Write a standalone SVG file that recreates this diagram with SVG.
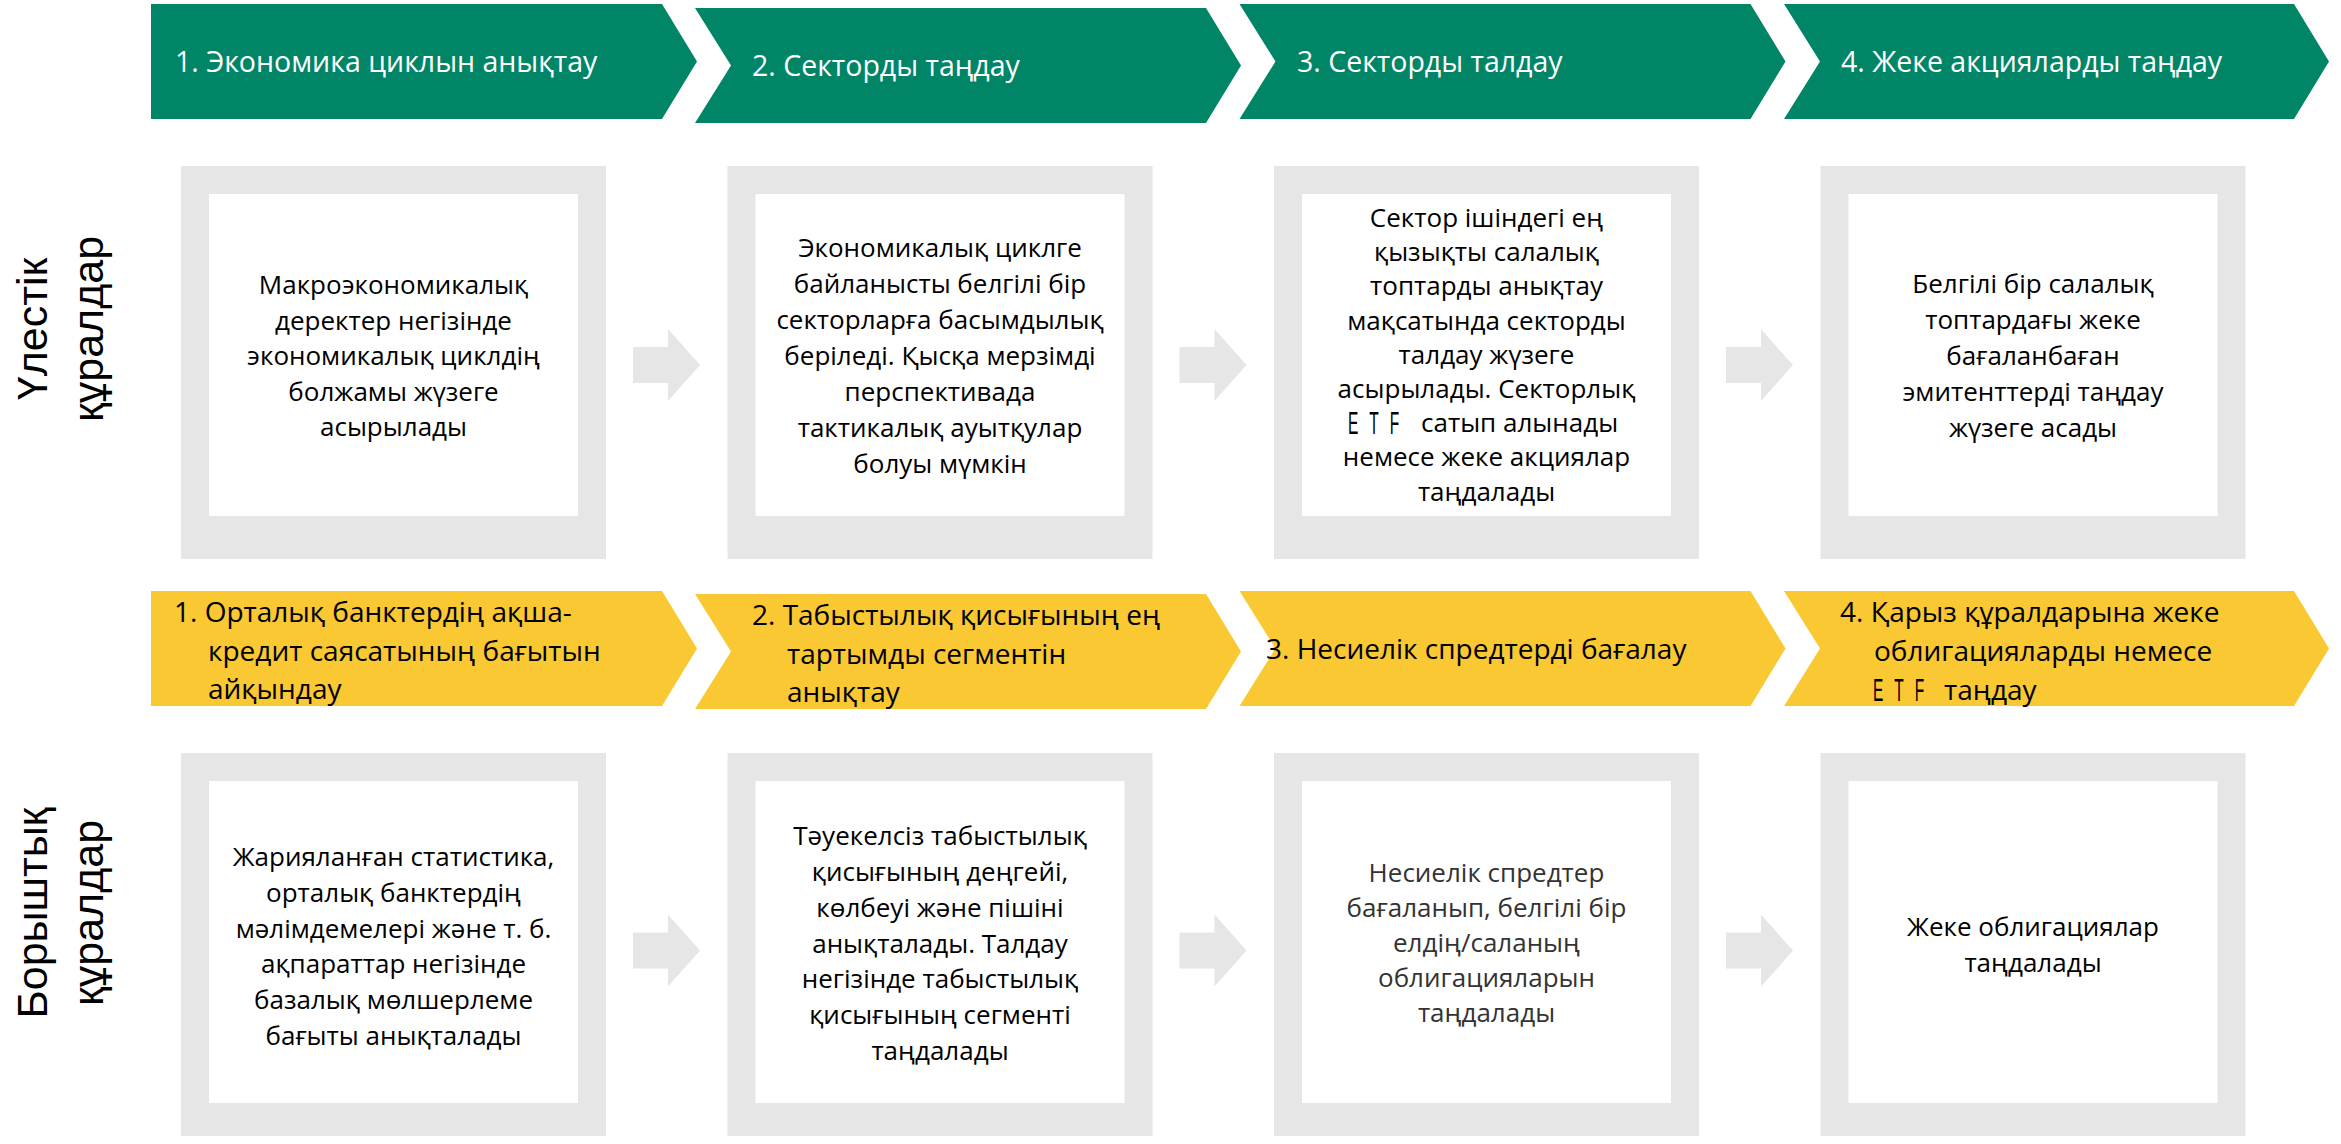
<svg xmlns="http://www.w3.org/2000/svg" width="2341" height="1144" viewBox="0 0 2341 1144">
<style>
.g{fill:#008566}
.y{fill:#F9C832}
.gb{fill:#E6E6E6}
.w{fill:#FFFFFF}
.ar{fill:#E6E6E6}
.ht{font-family:"Open Sans","Noto Sans",sans-serif;font-size:28.5px;fill:#FFFFFF}
.yt{font-family:"Open Sans","Noto Sans",sans-serif;font-size:28px;fill:#000000}
.bt{font-family:"Open Sans","Noto Sans",sans-serif;font-size:26px;fill:#000000;text-anchor:middle}
.lt{fill:#333333}
.side{font-family:"Liberation Sans",Arial,sans-serif;font-size:43px;fill:#000000;text-anchor:middle}
.etf{font-family:"Liberation Sans",Arial,sans-serif;font-size:31px;letter-spacing:22px;fill:#000000}
</style>
<rect x="0" y="0" width="2341" height="1144" fill="#FFFFFF"/>

<g id="label-equity">
<text class="side" transform="translate(47,329) rotate(-90)">Үлестік</text>
<text class="side" transform="translate(103,329) rotate(-90)">құралдар</text>
</g>
<g id="label-debt">
<text class="side" transform="translate(47,913) rotate(-90)">Борыштық</text>
<text class="side" transform="translate(103,913) rotate(-90)">құралдар</text>
</g>

<g id="eq-step1">
<polygon class="g" points="151,4 662,4 697,61.5 662,119 151,119"/>
<text class="ht" x="175" y="72">1. Экономика циклын анықтау</text>
</g>
<g id="eq-step2">
<polygon class="g" points="695,8 1206,8 1241,65.5 1206,123 695,123 731,65.5"/>
<text class="ht" x="752" y="76">2. Секторды таңдау</text>
</g>
<g id="eq-step3">
<polygon class="g" points="1239.5,4 1750.5,4 1785.5,61.5 1750.5,119 1239.5,119 1275.5,61.5"/>
<text class="ht" x="1297" y="72">3. Секторды талдау</text>
</g>
<g id="eq-step4">
<polygon class="g" points="1784,4 2294,4 2329,61.5 2294,119 1784,119 1820,61.5"/>
<text class="ht" x="1841" y="72">4. Жеке акцияларды таңдау</text>
</g>

<g id="eq-box1">
<rect class="gb" x="181" y="166" width="425" height="393"/>
<rect class="w" x="209" y="194" width="369" height="322"/>
<text class="bt"><tspan x="393.5" y="294">Макроэкономикалық</tspan><tspan x="393.5" y="329.5">деректер негізінде</tspan><tspan x="393.5" y="365">экономикалық циклдің</tspan><tspan x="393.5" y="400.5">болжамы жүзеге</tspan><tspan x="393.5" y="436">асырылады</tspan></text>
</g>
<g id="eq-box2">
<rect class="gb" x="727.5" y="166" width="425" height="393"/>
<rect class="w" x="755.5" y="194" width="369" height="322"/>
<text class="bt"><tspan x="940" y="257">Экономикалық циклге</tspan><tspan x="940" y="293">байланысты белгілі бір</tspan><tspan x="940" y="329">секторларға басымдылық</tspan><tspan x="940" y="365">беріледі. Қысқа мерзімді</tspan><tspan x="940" y="401">перспективада</tspan><tspan x="940" y="437">тактикалық ауытқулар</tspan><tspan x="940" y="473">болуы мүмкін</tspan></text>
</g>
<g id="eq-box3">
<rect class="gb" x="1274" y="166" width="425" height="393"/>
<rect class="w" x="1302" y="194" width="369" height="322"/>
<text class="bt"><tspan x="1486.5" y="227">Сектор ішіндегі ең</tspan><tspan x="1486.5" y="261.2">қызықты салалық</tspan><tspan x="1486.5" y="295.4">топтарды анықтау</tspan><tspan x="1486.5" y="329.6">мақсатында секторды</tspan><tspan x="1486.5" y="363.8">талдау жүзеге</tspan><tspan x="1486.5" y="398">асырылады. Секторлық</tspan><tspan x="1486.5" y="466.4">немесе жеке акциялар</tspan><tspan x="1486.5" y="500.6">таңдалады</tspan></text>
<text class="etf" transform="translate(1348,434) scale(0.5,1)">ETF</text>
<text class="bt" style="text-anchor:start" x="1421" y="432.2">сатып алынады</text>
</g>
<g id="eq-box4">
<rect class="gb" x="1820.5" y="166" width="425" height="393"/>
<rect class="w" x="1848.5" y="194" width="369" height="322"/>
<text class="bt"><tspan x="2033" y="293">Белгілі бір салалық</tspan><tspan x="2033" y="329">топтардағы жеке</tspan><tspan x="2033" y="365">бағаланбаған</tspan><tspan x="2033" y="401">эмитенттерді таңдау</tspan><tspan x="2033" y="437">жүзеге асады</tspan></text>
</g>

<g id="debt-step1">
<polygon class="y" points="151,591 662,591 697,648.5 662,706 151,706"/>
<text class="yt"><tspan x="174" y="621.5">1. Орталық банктердің ақша-</tspan><tspan x="208" y="660.5">кредит саясатының бағытын</tspan><tspan x="208" y="699">айқындау</tspan></text>
</g>
<g id="debt-step2">
<polygon class="y" points="695,594 1206,594 1241,651.5 1206,709 695,709 731,651.5"/>
<text class="yt"><tspan x="752" y="625">2. Табыстылық қисығының ең</tspan><tspan x="787" y="664">тартымды сегментін</tspan><tspan x="787" y="702">анықтау</tspan></text>
</g>
<g id="debt-step3">
<polygon class="y" points="1239.5,591 1750.5,591 1785.5,648.5 1750.5,706 1239.5,706 1275.5,648.5"/>
<text class="yt" x="1266" y="659">3. Несиелік спредтерді бағалау</text>
</g>
<g id="debt-step4">
<polygon class="y" points="1784,591 2294,591 2329,648.5 2294,706 1784,706 1820,648.5"/>
<text class="yt"><tspan x="1840" y="622">4. Қарыз құралдарына жеке</tspan><tspan x="1874" y="661">облигацияларды немесе</tspan><tspan x="1944" y="700">таңдау</tspan></text>
<text class="etf" transform="translate(1873,700.5) scale(0.5,1)">ETF</text>
</g>

<g id="debt-box1">
<rect class="gb" x="181" y="753" width="425" height="383"/>
<rect class="w" x="209" y="781" width="369" height="322"/>
<text class="bt"><tspan x="393.5" y="866">Жарияланған статистика,</tspan><tspan x="393.5" y="901.8">орталық банктердің</tspan><tspan x="393.5" y="937.6">мәлімдемелері және т. б.</tspan><tspan x="393.5" y="973.4">ақпараттар негізінде</tspan><tspan x="393.5" y="1009.2">базалық мөлшерлеме</tspan><tspan x="393.5" y="1045">бағыты анықталады</tspan></text>
</g>
<g id="debt-box2">
<rect class="gb" x="727.5" y="753" width="425" height="383"/>
<rect class="w" x="755.5" y="781" width="369" height="322"/>
<text class="bt"><tspan x="940" y="845">Тәуекелсіз табыстылық</tspan><tspan x="940" y="881">қисығының деңгейі,</tspan><tspan x="940" y="917">көлбеуі және пішіні</tspan><tspan x="940" y="953">анықталады. Талдау</tspan><tspan x="940" y="988">негізінде табыстылық</tspan><tspan x="940" y="1024">қисығының сегменті</tspan><tspan x="940" y="1060">таңдалады</tspan></text>
</g>
<g id="debt-box3">
<rect class="gb" x="1274" y="753" width="425" height="383"/>
<rect class="w" x="1302" y="781" width="369" height="322"/>
<text class="bt lt"><tspan x="1486.5" y="882">Несиелік спредтер</tspan><tspan x="1486.5" y="917">бағаланып, белгілі бір</tspan><tspan x="1486.5" y="952">елдің/саланың</tspan><tspan x="1486.5" y="987">облигацияларын</tspan><tspan x="1486.5" y="1022">таңдалады</tspan></text>
</g>
<g id="debt-box4">
<rect class="gb" x="1820.5" y="753" width="425" height="383"/>
<rect class="w" x="1848.5" y="781" width="369" height="322"/>
<text class="bt"><tspan x="2033" y="936">Жеке облигациялар</tspan><tspan x="2033" y="972">таңдалады</tspan></text>
</g>

<g id="connectors">
<polygon class="ar" points="633,347 668,347 668,329 700,365 668,401 668,383 633,383"/>
<polygon class="ar" points="1179.5,347 1214.5,347 1214.5,329 1246.5,365 1214.5,401 1214.5,383 1179.5,383"/>
<polygon class="ar" points="1726,347 1761,347 1761,329 1793,365 1761,401 1761,383 1726,383"/>
<polygon class="ar" points="633,932.5 668,932.5 668,914.5 700,950.5 668,986.5 668,968.5 633,968.5"/>
<polygon class="ar" points="1179.5,932.5 1214.5,932.5 1214.5,914.5 1246.5,950.5 1214.5,986.5 1214.5,968.5 1179.5,968.5"/>
<polygon class="ar" points="1726,932.5 1761,932.5 1761,914.5 1793,950.5 1761,986.5 1761,968.5 1726,968.5"/>
</g>
</svg>
